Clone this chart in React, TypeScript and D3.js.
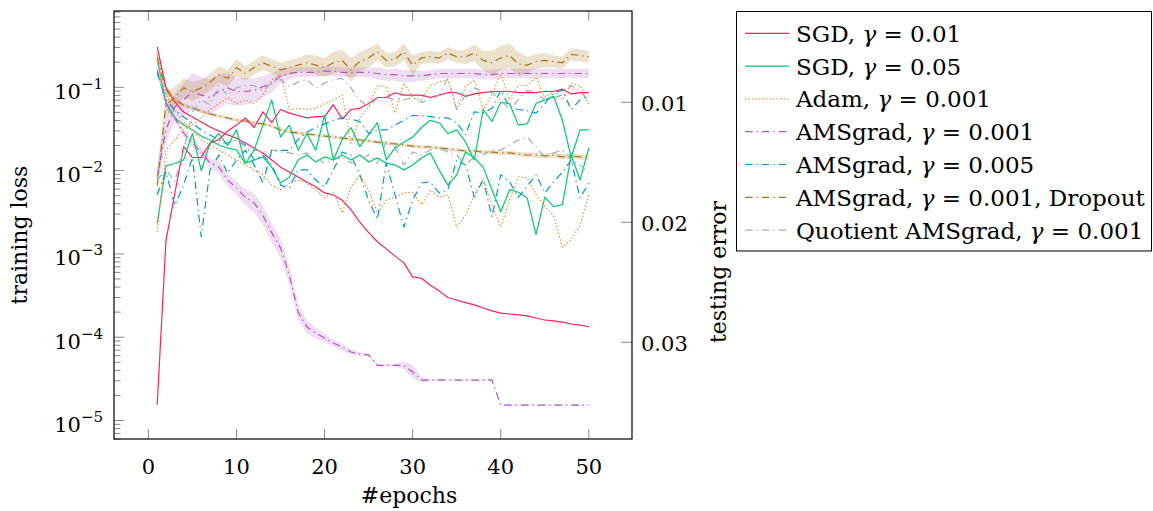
import React from 'react';
import * as d3 from 'd3';

const epochs = [1,2,3,4,5,6,7,8,9,10,11,12,13,14,15,16,17,18,19,20,21,22,23,24,25,26,27,28,29,30,31,32,33,34,35,36,37,38,39,40,41,42,43,44,45,46,47,48,49,50];
const xTicks = [0, 10, 20, 30, 40, 50];
const leftTickExp = [-1, -2, -3, -4, -5];
const rightTicks = [0.01, 0.02, 0.03];
const rightTickLabels = ['0.01', '0.02', '0.03'];

// SGD, gamma = 0.01
const sgd01Train = [0.305,0.1,0.0667,0.0505,0.044,0.0383,0.0334,0.0299,0.0268,0.0246,0.0214,0.0187,0.0163,0.0134,0.011,0.0096,0.0084,0.0073,0.0064,0.0054,0.0051,0.0044,0.0034,0.0024,0.0018,0.0014,0.00115,0.00094,0.00078,0.00053,0.00051,0.00042,0.00036,0.0003,0.00028,0.00026,0.000244,0.000224,0.000207,0.000195,0.00019,0.000185,0.00018,0.00017,0.000161,0.000157,0.000152,0.000144,0.00014,0.000133];
const sgd01Test = [0.0352,0.0215,0.0176,0.0137,0.0146,0.0146,0.0134,0.0131,0.0124,0.0119,0.0113,0.0121,0.0108,0.0117,0.0106,0.0109,0.0111,0.0113,0.0112,0.0112,0.0102,0.0114,0.0106,0.0105,0.0101,0.0096,0.0096,0.0092,0.0094,0.0094,0.0094,0.0096,0.0094,0.0092,0.0092,0.0095,0.0093,0.0092,0.0091,0.0091,0.0091,0.0092,0.0092,0.0092,0.0091,0.0091,0.0089,0.0093,0.0092,0.0092];
// SGD, gamma = 0.05
const sgd05Train = [0.213,0.0648,0.0428,0.0353,0.0307,0.026,0.0233,0.0203,0.0187,0.0177,0.0123,0.0134,0.0146,0.011,0.0071,0.0084,0.0134,0.0154,0.0127,0.0146,0.0134,0.0154,0.0134,0.0154,0.0127,0.0142,0.0123,0.0117,0.0102,0.0117,0.0142,0.0163,0.0102,0.0067,0.0089,0.0167,0.0142,0.011,0.0059,0.0032,0.0059,0.0055,0.0047,0.0017,0.0048,0.0037,0.0039,0.0154,0.0077,0.0187];
const sgd05Test = [0.0201,0.0153,0.0151,0.0148,0.0126,0.0157,0.0134,0.0126,0.0136,0.0123,0.0151,0.014,0.0119,0.0098,0.0129,0.0119,0.014,0.0126,0.014,0.0111,0.0148,0.0131,0.0121,0.0137,0.0127,0.0117,0.0148,0.0138,0.0133,0.0129,0.0121,0.0115,0.0117,0.0126,0.0123,0.0133,0.0148,0.0106,0.0116,0.01,0.0101,0.0119,0.0118,0.0101,0.0098,0.0095,0.0115,0.0146,0.0123,0.0123];
// Adam, gamma = 0.001
const adamTrain = [0.245,0.0809,0.0534,0.0383,0.0307,0.0233,0.0203,0.0177,0.0154,0.0134,0.0117,0.0102,0.0089,0.0067,0.0059,0.0071,0.0077,0.0071,0.0059,0.0047,0.0055,0.0031,0.0064,0.0089,0.0059,0.0031,0.0044,0.0048,0.0054,0.0055,0.0039,0.0059,0.0048,0.0051,0.0021,0.0029,0.0051,0.0082,0.0039,0.0021,0.0044,0.0084,0.0082,0.0051,0.0037,0.0029,0.0012,0.0015,0.0022,0.0051];
const adamTest = [0.0208,0.014,0.0131,0.0123,0.0119,0.0113,0.0106,0.0101,0.0096,0.0101,0.0098,0.0101,0.0094,0.0081,0.0077,0.0106,0.0105,0.0106,0.0105,0.0101,0.0098,0.0094,0.0134,0.0113,0.0104,0.0086,0.0087,0.0109,0.0084,0.0096,0.0098,0.0086,0.0083,0.0081,0.0106,0.0087,0.0081,0.0106,0.0094,0.0076,0.0098,0.0086,0.0086,0.0079,0.0096,0.0091,0.0098,0.0084,0.0086,0.0102];
// AMSgrad, gamma = 0.001
const ams001Train = [0.161,0.0648,0.0428,0.0283,0.0214,0.0167,0.0123,0.011,0.0077,0.0062,0.0048,0.0041,0.0029,0.0018,0.00118,0.00056,0.0002,0.000133,0.000112,0.0000978,0.0000851,0.0000762,0.0000664,0.0000628,0.0000612,0.0000459,0.0000459,0.0000459,0.0000459,0.0000383,0.0000306,0.0000306,0.0000306,0.0000306,0.0000306,0.0000306,0.0000306,0.0000306,0.0000306,0.0000153,0.0000153,0.0000153,0.0000153,0.0000153,0.0000153,0.0000153,0.0000153,0.0000153,0.0000153,0.0000153];
const ams001TrainSpread = [1.08,1.08,1.1,1.1,1.12,1.15,1.15,1.18,1.2,1.2,1.25,1.3,1.3,1.3,1.3,1.3,1.25,1.2,1.15,1.12,1.1,1.1,1.08,1.05,1.05,1.03,1.03,1.03,1.12,1.2,1.08,1.02,1.02,1.02,1.02,1.02,1.02,1.02,1.02,1.02,1.02,1.02,1.02,1.02,1.02,1.02,1.02,1.02,1.02,1.02];
const ams001Test = [0.0162,0.0123,0.0104,0.0098,0.0091,0.0094,0.0096,0.0091,0.0088,0.0091,0.0091,0.009,0.0087,0.0084,0.0078,0.0076,0.0075,0.0075,0.0075,0.0074,0.0074,0.0075,0.0075,0.0075,0.0075,0.0076,0.0077,0.0077,0.0078,0.0078,0.0078,0.0077,0.0076,0.0076,0.0076,0.0076,0.0076,0.0077,0.0077,0.0076,0.0076,0.0076,0.0076,0.0076,0.0076,0.0076,0.0076,0.0076,0.0076,0.0076];
const ams001TestSpread = [0.0008,0.001,0.0012,0.0014,0.0015,0.0015,0.0015,0.0014,0.0013,0.0012,0.0011,0.001,0.0009,0.0008,0.0006,0.0005,0.0004,0.0004,0.0004,0.0004,0.0004,0.0004,0.0004,0.0004,0.0004,0.0005,0.0005,0.0005,0.0005,0.0005,0.0004,0.0004,0.0004,0.0004,0.0004,0.0004,0.0004,0.0004,0.0004,0.0004,0.0004,0.0004,0.0004,0.0004,0.0004,0.0004,0.0004,0.0004,0.0004,0.0004];
// AMSgrad, gamma = 0.005
const ams005Train = [0.148,0.0705,0.0534,0.044,0.0373,0.0307,0.0268,0.0233,0.0214,0.0233,0.0203,0.0134,0.0154,0.0117,0.0067,0.0062,0.0102,0.0102,0.0077,0.0064,0.0102,0.0167,0.0154,0.0089,0.0044,0.0026,0.0123,0.0051,0.0021,0.0044,0.0071,0.0073,0.0054,0.0059,0.0134,0.0117,0.0048,0.0077,0.0028,0.0089,0.0073,0.0048,0.0065,0.0089,0.0054,0.0073,0.0096,0.0134,0.0047,0.0071];
const ams005Test = [0.0177,0.0158,0.0186,0.0169,0.0146,0.0212,0.0156,0.0144,0.0159,0.0148,0.014,0.0152,0.0167,0.014,0.014,0.014,0.0131,0.0125,0.0121,0.0118,0.0115,0.0113,0.0114,0.0116,0.0126,0.0123,0.0123,0.0119,0.0115,0.0111,0.0111,0.0112,0.0113,0.0113,0.0117,0.0127,0.0108,0.0109,0.0105,0.009,0.0104,0.0106,0.0107,0.0109,0.0101,0.0092,0.009,0.0106,0.0098,0.0094];
// AMSgrad, gamma = 0.001, Dropout
const dropTrain = [0.231,0.0929,0.0705,0.0614,0.0564,0.0519,0.0478,0.0452,0.0428,0.0405,0.0394,0.0373,0.0363,0.0343,0.0307,0.0291,0.0283,0.0275,0.0268,0.026,0.0253,0.0246,0.024,0.0233,0.0227,0.022,0.0214,0.0209,0.0203,0.0197,0.0192,0.0192,0.0187,0.0182,0.0177,0.0172,0.0172,0.0167,0.0167,0.0163,0.0163,0.0158,0.0154,0.0154,0.015,0.0154,0.0146,0.015,0.0146,0.0146];
const dropTrainSpread = [1.18,1.12,1.08,1.06,1.05,1.05,1.05,1.05,1.05,1.05,1.05,1.05,1.05,1.05,1.05,1.05,1.05,1.05,1.05,1.05,1.05,1.05,1.05,1.05,1.05,1.05,1.05,1.05,1.05,1.05,1.05,1.05,1.05,1.05,1.05,1.05,1.05,1.05,1.06,1.06,1.06,1.06,1.07,1.07,1.08,1.08,1.08,1.08,1.08,1.08];
const dropTest = [0.0169,0.0102,0.0096,0.0088,0.0091,0.0088,0.0083,0.0077,0.008,0.0071,0.0076,0.0071,0.0067,0.007,0.0073,0.0071,0.0069,0.0067,0.0069,0.0071,0.0067,0.0065,0.0073,0.0066,0.0063,0.0058,0.0065,0.0064,0.0058,0.0069,0.0063,0.0062,0.0063,0.0059,0.0062,0.0062,0.0059,0.0065,0.0067,0.0063,0.0061,0.0068,0.0069,0.0066,0.0065,0.0066,0.0067,0.006,0.0061,0.0062];
const dropTestSpread = [0.0012,0.001,0.0009,0.0008,0.0008,0.0007,0.0007,0.0007,0.0007,0.0007,0.0006,0.0006,0.0006,0.0006,0.0006,0.0006,0.0006,0.0007,0.0008,0.0008,0.0009,0.0009,0.001,0.0008,0.0008,0.0007,0.0006,0.0006,0.0007,0.0008,0.0005,0.0005,0.0005,0.0005,0.0005,0.0006,0.0007,0.0008,0.001,0.001,0.001,0.001,0.0007,0.0006,0.0006,0.0005,0.0005,0.0005,0.0005,0.0005];
// Quotient AMSgrad, gamma = 0.001
const quotTrain = [0.213,0.0564,0.0428,0.0363,0.0307,0.0253,0.0233,0.0214,0.0214,0.0233,0.0197,0.0177,0.0167,0.0177,0.0167,0.0163,0.0154,0.0163,0.0142,0.0123,0.0134,0.0146,0.0123,0.0134,0.0154,0.0123,0.022,0.0192,0.0117,0.0167,0.0154,0.0177,0.0187,0.0167,0.0154,0.0117,0.0146,0.0154,0.0177,0.0177,0.0203,0.0233,0.0253,0.0192,0.0146,0.0163,0.0177,0.0134,0.0117,0.0094];
const quotTest = [0.0165,0.0156,0.0166,0.014,0.0108,0.0098,0.0102,0.0086,0.0094,0.0088,0.0086,0.0086,0.009,0.0084,0.0081,0.0087,0.0083,0.0081,0.0088,0.0084,0.0081,0.008,0.0088,0.0098,0.0104,0.0096,0.0096,0.0098,0.0098,0.0096,0.01,0.0098,0.0094,0.008,0.0106,0.0094,0.0088,0.0091,0.0092,0.0098,0.0106,0.0098,0.009,0.0092,0.0098,0.0096,0.0094,0.0086,0.0091,0.0098];

const seriesNames = [
  ['SGD, ', '0.01', ''],
  ['SGD, ', '0.05', ''],
  ['Adam, ', '0.001', ''],
  ['AMSgrad, ', '0.001', ''],
  ['AMSgrad, ', '0.005', ''],
  ['AMSgrad, ', '0.001', ', Dropout'],
  ['Quotient AMSgrad, ', '0.001', ''],
];
const colors = ['#FF1F5B', '#00CD6C', '#F28522', '#AF58BA', '#009ADE', '#A6761D', '#A0B1BA'];
const dashes = ['', '', '1.3,2.2', '7.5,4,1.3,4', '7.5,4,1.3,4', '7.5,4,1.3,4', '7.5,4,1.3,4'];
const trainData = [sgd01Train, sgd05Train, adamTrain, ams001Train, ams005Train, dropTrain, quotTrain];
const testData = [sgd01Test, sgd05Test, adamTest, ams001Test, ams005Test, dropTest, quotTest];

const W = 1153, H = 511;
const PL = 114, PR = 632, PT = 11, PB = 439;
const FONT = "'DejaVu Serif', serif";

export default function App() {
  const x = d3.scaleLinear().domain([-3.9, 54.9]).range([PL, PR]);
  const yL = d3.scaleLog().domain([Math.pow(10, -5.222), Math.pow(10, -0.084)]).range([PB, PT]);
  const yR = d3.scaleLinear().domain([0.00239, 0.03806]).range([PT, PB]);

  const lineL = (arr: number[]) => d3.line<number>().x((_, i) => x(epochs[i])).y((d) => yL(d))(arr) || '';
  const lineR = (arr: number[]) => d3.line<number>().x((_, i) => x(epochs[i])).y((d) => yR(d))(arr) || '';
  const bandL = (arr: number[], f: number[]) =>
    d3.area<number>().x((_, i) => x(epochs[i])).y0((d, i) => yL(d / f[i])).y1((d, i) => yL(d * f[i]))(arr) || '';
  const bandR = (arr: number[], s: number[]) =>
    d3.area<number>().x((_, i) => x(epochs[i])).y0((d, i) => yR(d - s[i])).y1((d, i) => yR(d + s[i]))(arr) || '';

  const minor: number[] = [];
  for (let k = -6; k <= 0; k++) {
    for (let m = 2; m <= 9; m++) {
      const v = m * Math.pow(10, k);
      const yy = yL(v);
      if (yy >= PT && yy <= PB) minor.push(v);
    }
  }

  const tickColor = '#8a8a8a';
  const legX = 736.5, legY = 11.5, legW = 415, legH = 239.5;

  return (
    <svg width={W} height={H} style={{ position: 'absolute', left: 0, top: 0, background: '#fff' }} fontFamily={FONT}>
      <defs>
        <clipPath id="plotclip">
          <rect x={PL} y={PT} width={PR - PL} height={PB - PT} />
        </clipPath>
      </defs>
      <rect x={0} y={0} width={W} height={H} fill="#fff" />

      <g clipPath="url(#plotclip)">
        <path d={bandL(ams001Train, ams001TrainSpread)} fill={colors[3]} fillOpacity={0.2} stroke="none" />
        <path d={bandR(ams001Test, ams001TestSpread)} fill={colors[3]} fillOpacity={0.2} stroke="none" />
        <path d={bandL(dropTrain, dropTrainSpread)} fill={colors[5]} fillOpacity={0.22} stroke="none" />
        <path d={bandR(dropTest, dropTestSpread)} fill={colors[5]} fillOpacity={0.22} stroke="none" />
        {trainData.map((arr, i) => (
          <path key={'tr' + i} d={lineL(arr)} fill="none" stroke={colors[i]} strokeWidth={1.2}
            strokeDasharray={dashes[i] || undefined} strokeLinejoin="round" />
        ))}
        {testData.map((arr, i) => (
          <path key={'te' + i} d={lineR(arr)} fill="none" stroke={colors[i]} strokeWidth={1.2}
            strokeDasharray={dashes[i] || undefined} strokeLinejoin="round" />
        ))}
      </g>

      {/* x ticks */}
      {xTicks.map((t) => (
        <g key={'xt' + t}>
          <line x1={x(t)} x2={x(t)} y1={PB} y2={PB - 10} stroke={tickColor} strokeWidth={1} />
          <line x1={x(t)} x2={x(t)} y1={PT} y2={PT + 10} stroke={tickColor} strokeWidth={1} />
          <text x={x(t)} y={474} textAnchor="middle" fontSize={21} fill="#000">{t}</text>
        </g>
      ))}
      {/* left log ticks */}
      {minor.map((v, i) => (
        <line key={'mn' + i} x1={PL} x2={PL + 6.5} y1={yL(v)} y2={yL(v)} stroke={tickColor} strokeWidth={1} />
      ))}
      {leftTickExp.map((e) => {
        const yy = yL(Math.pow(10, e));
        return (
          <g key={'lt' + e}>
            <line x1={PL} x2={PL + 10} y1={yy} y2={yy} stroke={tickColor} strokeWidth={1} />
            <text x={103} y={yy + 11.5} textAnchor="end" fontSize={21} fill="#000">
              10<tspan dy={-10} fontSize={15}>{'\u2212' + Math.abs(e)}</tspan>
            </text>
          </g>
        );
      })}
      {/* right ticks */}
      {rightTicks.map((t, i) => (
        <g key={'rt' + t}>
          <line x1={PR} x2={PR - 11} y1={yR(t)} y2={yR(t)} stroke={tickColor} strokeWidth={1} />
          <text x={641} y={yR(t) + 9} textAnchor="start" fontSize={21} fill="#000">{rightTickLabels[i]}</text>
        </g>
      ))}

      <rect x={PL} y={PT} width={PR - PL} height={PB - PT} fill="none" stroke="#000" strokeWidth={1.2} />

      {/* axis labels */}
      <text transform="translate(27,235) rotate(-90)" textAnchor="middle" fontSize={22} fill="#000">training loss</text>
      <text transform="translate(726,272) rotate(-90)" textAnchor="middle" fontSize={22} fill="#000">testing error</text>
      <text x={409} y={503} textAnchor="middle" fontSize={22} fill="#000">#epochs</text>

      {/* legend */}
      <rect x={legX} y={legY} width={legW} height={legH} fill="#fff" stroke="#000" strokeWidth={1} />
      {seriesNames.map((nm, i) => {
        const yy = 33.3 + i * 32.8;
        return (
          <g key={'lg' + i}>
            <line x1={745} x2={789} y1={yy} y2={yy} stroke={colors[i]} strokeWidth={1.2}
              strokeDasharray={dashes[i] || undefined} />
            <text x={796} y={yy + 8.5} fontSize={23} fill="#000">
              {nm[0]}<tspan fontStyle="italic">{'\u03B3'}</tspan>{' = ' + nm[1] + nm[2]}
            </text>
          </g>
        );
      })}
    </svg>
  );
}
